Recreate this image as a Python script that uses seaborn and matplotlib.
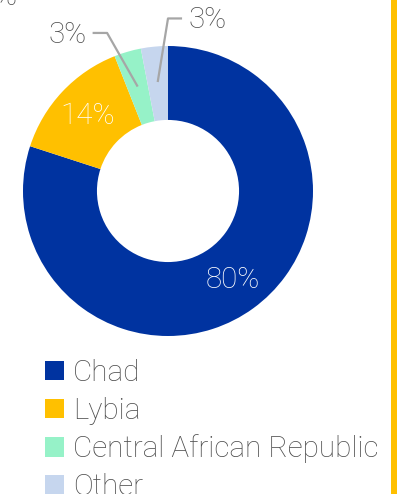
import numpy as np
import matplotlib
matplotlib.use("Agg")
import matplotlib.pyplot as plt
from matplotlib.patches import Patch
import seaborn as sns

# Origin shares
categories = ["Chad", "Lybia", "Central African Republic", "Other"]
shares = [80, 14, 3, 3]
labels = ["80%", "14%", "3%", "3%"]
colors = ["#0033A0", "#FFC000", "#96F2C8", "#C6D6EE"]

sns.set_theme(style="white")
plt.rcParams["font.family"] = ["Roboto", "DejaVu Sans"]
TXT = "#4d4d4d"
FS = 21.3
FW = "light"

W, H = 397, 494
fig = plt.figure(figsize=(W / 100, H / 100), dpi=100)

# donut axes: centre (168, 191) px, radius 145 px
cx, cy, r = 168, 191, 145
ax = fig.add_axes([(cx - r) / W, (H - cy - r) / H, 2 * r / W, 2 * r / H])
palette = sns.color_palette(colors)
wedges, _ = ax.pie(shares, colors=palette, startangle=90, counterclock=False,
                   radius=1, wedgeprops=dict(width=0.51, linewidth=0))
ax.set_xlim(-1, 1)
ax.set_ylim(-1, 1)
ax.set_aspect("equal")
ax.axis("off")

def mid_angle(w):
    return np.deg2rad((w.theta1 + w.theta2) / 2)

# labels inside the two large segments
for w, lab in zip(wedges[:2], labels[:2]):
    a = mid_angle(w)
    ax.text(0.76 * np.cos(a), 0.76 * np.sin(a), lab, color="white",
            fontsize=FS, fontweight=FW, ha="center", va="center")

# leader-line labels for the small segments
line_kw = dict(color="#A6A6A6", lw=1.6, clip_on=False, solid_capstyle="butt")
a = mid_angle(wedges[2])
tip = (0.75 * np.cos(a), 0.75 * np.sin(a))
ax.plot([tip[0], -0.42, -0.52], [tip[1], 1.09, 1.09], **line_kw)
ax.text(-0.56, 1.075, labels[2], color=TXT, fontsize=FS, fontweight=FW,
        ha="right", va="center", clip_on=False)

a = mid_angle(wedges[3])
tip = (0.755 * np.cos(a), 0.755 * np.sin(a))
ax.plot([tip[0], 0.0, 0.097], [tip[1], 1.19, 1.19], **line_kw)
ax.text(0.14, 1.18, labels[3], color=TXT, fontsize=FS, fontweight=FW,
        ha="left", va="center", clip_on=False)

# percent sign running off the top-left edge
fig.text(16 / W, 1 - 5 / H, "%", color=TXT, fontsize=FS, fontweight=FW,
         ha="right", va="baseline")

# accent bar on the right edge
fig.add_artist(plt.Rectangle((391 / W, 0), 6 / W, 1, transform=fig.transFigure,
                             color="#FFC000", lw=0))

handles = [Patch(facecolor=c, edgecolor="none") for c in palette]
leg = fig.legend(handles, categories, loc="upper left",
                 bbox_to_anchor=(45 / W, 1 - 359 / H), frameon=False,
                 handlelength=0.64, handleheight=0.64,
                 handletextpad=0.3, labelspacing=0.33, borderpad=0,
                 borderaxespad=0, prop=dict(weight=FW, size=FS))
for t in leg.get_texts():
    t.set_color(TXT)

fig.savefig("out.png", dpi=100)
